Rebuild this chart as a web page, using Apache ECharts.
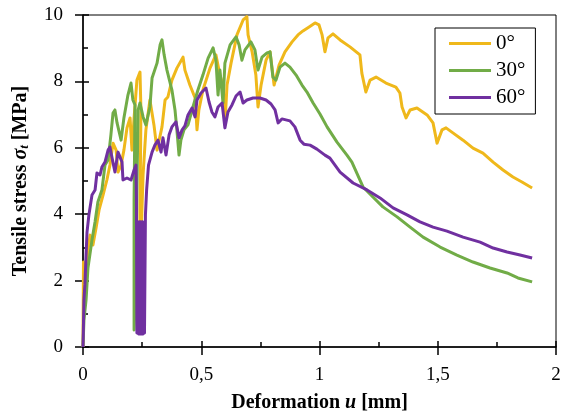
<!DOCTYPE html>
<html>
<head>
<meta charset="utf-8">
<script src="https://cdn.jsdelivr.net/npm/echarts@6/dist/echarts.min.js"></script>
<style>
html,body{margin:0;padding:0;background:#fff;}
#c{width:563px;height:416px;}
</style>
</head>
<body>
<div id="c"></div>
<script>
// Data: [deformation u (mm), tensile stress (MPa)]
var seriesNames = ['0°', '30°', '60°'];
var xTicks = [0, 0.5, 1, 1.5, 2];
var yTicks = [0, 2, 4, 6, 8, 10];

var deg0 = [
 [0,0],[0.002,2.56],[0.008,1.96],[0.021,2.92],[0.030,3.37],[0.042,3.07],[0.055,3.58],[0.068,4.13],
 [0.085,4.58],[0.101,5.03],[0.114,5.48],[0.127,6.14],[0.140,5.93],[0.148,5.27],[0.161,5.48],[0.173,5.93],
 [0.186,6.60],[0.199,6.90],[0.207,5.93],[0.216,6.90],[0.228,8.04],[0.241,8.28],[0.245,7.14],[0.241,4.13],
 [0.241,1.72],[0.245,3.22],[0.254,5.18],[0.266,6.54],[0.283,7.44],[0.300,6.69],[0.313,5.93],[0.334,6.63],
 [0.347,7.44],[0.359,7.53],[0.376,8.04],[0.397,8.40],[0.423,8.73],[0.431,8.34],[0.452,7.89],[0.474,7.50],
 [0.482,6.54],[0.490,7.14],[0.507,7.74],[0.537,8.40],[0.562,8.80],[0.579,8.19],[0.592,7.89],[0.600,6.69],
 [0.609,7.89],[0.626,8.55],[0.651,9.40],[0.677,9.85],[0.693,9.95],[0.698,9.40],[0.715,8.89],[0.731,8.19],
 [0.740,7.23],[0.753,7.89],[0.774,8.64],[0.791,8.89],[0.808,7.89],[0.829,8.49],[0.854,8.89],[0.884,9.19],
 [0.909,9.40],[0.930,9.52],[0.956,9.64],[0.981,9.76],[0.998,9.70],[1.011,9.40],[1.023,8.89],[1.036,9.31],
 [1.057,9.43],[1.087,9.25],[1.129,9.04],[1.171,8.80],[1.179,8.25],[1.196,7.68],[1.214,8.04],[1.239,8.13],
 [1.281,7.95],[1.323,7.83],[1.340,7.65],[1.349,7.23],[1.366,6.90],[1.383,7.14],[1.412,7.20],[1.455,6.99],
 [1.480,6.75],[1.497,6.14],[1.518,6.54],[1.535,6.60],[1.564,6.45],[1.607,6.23],[1.649,5.99],[1.691,5.84],
 [1.734,5.57],[1.776,5.33],[1.818,5.12],[1.856,4.97],[1.899,4.79]
];

var deg30 = [
 [0,0],[0.004,0.81],[0.013,1.42],[0.021,2.38],[0.038,3.22],[0.051,3.77],[0.063,4.37],[0.080,4.73],
 [0.093,5.48],[0.106,5.63],[0.118,6.39],[0.127,7.05],[0.135,7.14],[0.144,6.75],[0.161,6.23],[0.173,6.90],
 [0.190,7.59],[0.203,7.95],[0.211,7.44],[0.220,7.29],[0.216,4.43],[0.216,0.51],[0.224,2.02],[0.228,4.73],
 [0.233,7.14],[0.241,7.35],[0.254,6.93],[0.266,6.69],[0.283,7.23],[0.292,8.10],[0.313,8.55],[0.326,9.10],
 [0.334,9.25],[0.343,8.80],[0.355,8.34],[0.376,7.74],[0.389,7.14],[0.397,6.54],[0.406,5.78],[0.414,6.23],
 [0.427,6.54],[0.444,6.69],[0.465,7.23],[0.486,7.74],[0.507,8.19],[0.529,8.70],[0.550,9.01],[0.562,8.64],
 [0.571,7.59],[0.579,8.34],[0.592,7.35],[0.600,8.55],[0.622,9.10],[0.647,9.34],[0.660,9.10],[0.672,8.64],
 [0.685,8.95],[0.710,9.19],[0.727,8.95],[0.740,8.34],[0.757,8.73],[0.778,8.86],[0.791,8.89],[0.803,8.13],
 [0.816,8.04],[0.833,8.43],[0.854,8.55],[0.875,8.43],[0.901,8.19],[0.926,7.89],[0.947,7.68],[0.973,7.35],
 [1.002,7.02],[1.032,6.63],[1.074,6.17],[1.116,5.78],[1.137,5.57],[1.184,4.82],[1.226,4.52],[1.268,4.22],
 [1.328,3.92],[1.383,3.61],[1.438,3.31],[1.510,3.01],[1.581,2.77],[1.649,2.56],[1.721,2.38],[1.793,2.23],
 [1.839,2.08],[1.899,1.96]
];

var deg60 = [
 [0,0],[0.004,1.42],[0.008,1.87],[0.013,2.77],[0.017,3.46],[0.025,3.98],[0.038,4.58],[0.051,4.73],
 [0.059,5.24],[0.072,5.18],[0.080,5.42],[0.093,5.57],[0.106,5.93],[0.114,6.02],[0.123,5.69],[0.135,5.27],
 [0.148,5.87],[0.165,5.57],[0.169,5.03],[0.186,5.09],[0.203,5.03],[0.216,5.33],[0.224,5.48],
 [0.226,4.43],[0.228,0.42],[0.232,3.77],[0.235,0.39],[0.239,3.77],[0.241,0.39],[0.245,3.77],[0.248,0.39],
 [0.252,3.77],[0.254,0.39],[0.258,3.70],[0.260,0.42],[0.264,3.98],[0.269,4.73],[0.277,5.48],[0.292,5.87],
 [0.304,6.08],[0.317,6.23],[0.330,5.87],[0.338,6.30],[0.351,5.78],[0.364,6.39],[0.376,6.63],[0.393,6.78],
 [0.406,6.30],[0.419,6.54],[0.431,6.66],[0.444,6.99],[0.461,7.20],[0.474,6.93],[0.482,7.44],[0.499,7.65],
 [0.520,7.80],[0.533,7.38],[0.545,7.08],[0.558,6.93],[0.571,7.23],[0.588,7.35],[0.600,6.60],[0.613,7.08],
 [0.630,7.29],[0.647,7.56],[0.664,7.68],[0.677,7.35],[0.693,7.44],[0.719,7.50],[0.748,7.50],[0.774,7.44],
 [0.795,7.32],[0.812,7.14],[0.825,6.75],[0.841,6.87],[0.875,6.81],[0.896,6.63],[0.918,6.23],[0.934,6.11],
 [0.960,6.08],[0.989,5.96],[1.023,5.78],[1.044,5.69],[1.087,5.27],[1.142,4.94],[1.201,4.73],[1.256,4.49],
 [1.311,4.19],[1.370,3.98],[1.425,3.77],[1.480,3.61],[1.539,3.49],[1.607,3.31],[1.679,3.16],[1.734,2.98],
 [1.793,2.86],[1.848,2.77],[1.899,2.68]
];

var colors = ['#EFB81B', '#71AC47', '#7030A0'];
var FONT = "'Liberation Serif','Times New Roman',serif";

var chart = echarts.init(document.getElementById('c'), null, {renderer: 'canvas'});

function xAxisBase(extra) {
  return Object.assign({
    type: 'value', min: xTicks[0], max: xTicks[xTicks.length - 1], interval: 0.5,
    position: 'bottom', splitLine: {show: false}
  }, extra);
}
function yAxisBase(extra) {
  return Object.assign({
    type: 'value', min: yTicks[0], max: yTicks[yTicks.length - 1], interval: 2,
    position: 'left', splitLine: {show: false}
  }, extra);
}

var option = {
  backgroundColor: '#fff',
  animation: false,
  color: colors,
  grid: {left: 83, top: 15, width: 473, height: 332, containLabel: false, outerBoundsMode: 'none',
         show: true, borderColor: '#000', borderWidth: 1, backgroundColor: 'transparent'},
  legend: {
    orient: 'vertical', left: 435, top: 28,
    data: seriesNames,
    icon: 'rect',
    borderColor: '#000', borderWidth: 1, borderRadius: 0,
    padding: [5, 10, 6, 14],
    itemGap: 6, itemWidth: 42, itemHeight: 3, itemTextGap: 6,
    textStyle: {fontFamily: FONT, fontSize: 21, color: '#000', lineHeight: 21},
    backgroundColor: '#fff'
  },
  xAxis: [
    xAxisBase({
      axisLine: {show: true, lineStyle: {color: '#000', width: 1.5}},
      axisTick: {show: true, inside: false, length: 8, lineStyle: {color: '#000', width: 1.5}},
      axisLabel: {
        margin: 19, color: '#000', fontFamily: FONT, fontSize: 19,
        formatter: function (v) { return String(v).replace('.', ','); }
      },
      name: '{b|Deformation }{bi|u}{b| [mm]}',
      nameLocation: 'middle', nameGap: 46,
      nameTextStyle: {
        rich: {
          b: {fontFamily: FONT, fontSize: 20, fontWeight: 'bold', color: '#000'},
          bi: {fontFamily: FONT, fontSize: 20, fontWeight: 'bold', fontStyle: 'italic', color: '#000'}
        }
      }
    }),
    xAxisBase({
      axisLine: {show: false},
      axisTick: {show: true, inside: true, length: 6, lineStyle: {color: '#000', width: 1.5}},
      minorTick: {show: true, splitNumber: 2, length: 5, lineStyle: {color: '#000', width: 1.5}},
      axisLabel: {show: false}
    })
  ],
  yAxis: [
    yAxisBase({
      axisLine: {show: true, lineStyle: {color: '#000', width: 1.5}},
      axisTick: {show: true, inside: false, length: 8, lineStyle: {color: '#000', width: 1.5}},
      axisLabel: {margin: 20, color: '#000', fontFamily: FONT, fontSize: 19},
      name: '{b|Tensile stress }{bi|σ}{sub|t}{b| [MPa]}',
      nameLocation: 'middle', nameGap: 52, nameRotate: 90,
      nameTextStyle: {
        rich: {
          b: {fontFamily: FONT, fontSize: 20, fontWeight: 'bold', color: '#000'},
          bi: {fontFamily: FONT, fontSize: 20, fontWeight: 'bold', fontStyle: 'italic', color: '#000'},
          sub: {fontFamily: FONT, fontSize: 13, fontWeight: 'bold', fontStyle: 'italic', color: '#000', verticalAlign: 'bottom', padding: [6, 0, 0, 0]}
        }
      }
    }),
    yAxisBase({
      axisLine: {show: false},
      axisTick: {show: true, inside: true, length: 6, lineStyle: {color: '#000', width: 1.5}},
      minorTick: {show: true, splitNumber: 2, length: 5, lineStyle: {color: '#000', width: 1.5}},
      axisLabel: {show: false}
    })
  ],
  series: [deg0, deg30, deg60].map(function (d, i) {
    return {
      name: seriesNames[i], type: 'line', data: d,
      xAxisIndex: 0, yAxisIndex: 0,
      symbol: 'none', showSymbol: false,
      lineStyle: {width: 3, color: colors[i], join: 'round'},
      z: 2 + i
    };
  })
};

chart.setOption(option);
</script>
</body>
</html>
